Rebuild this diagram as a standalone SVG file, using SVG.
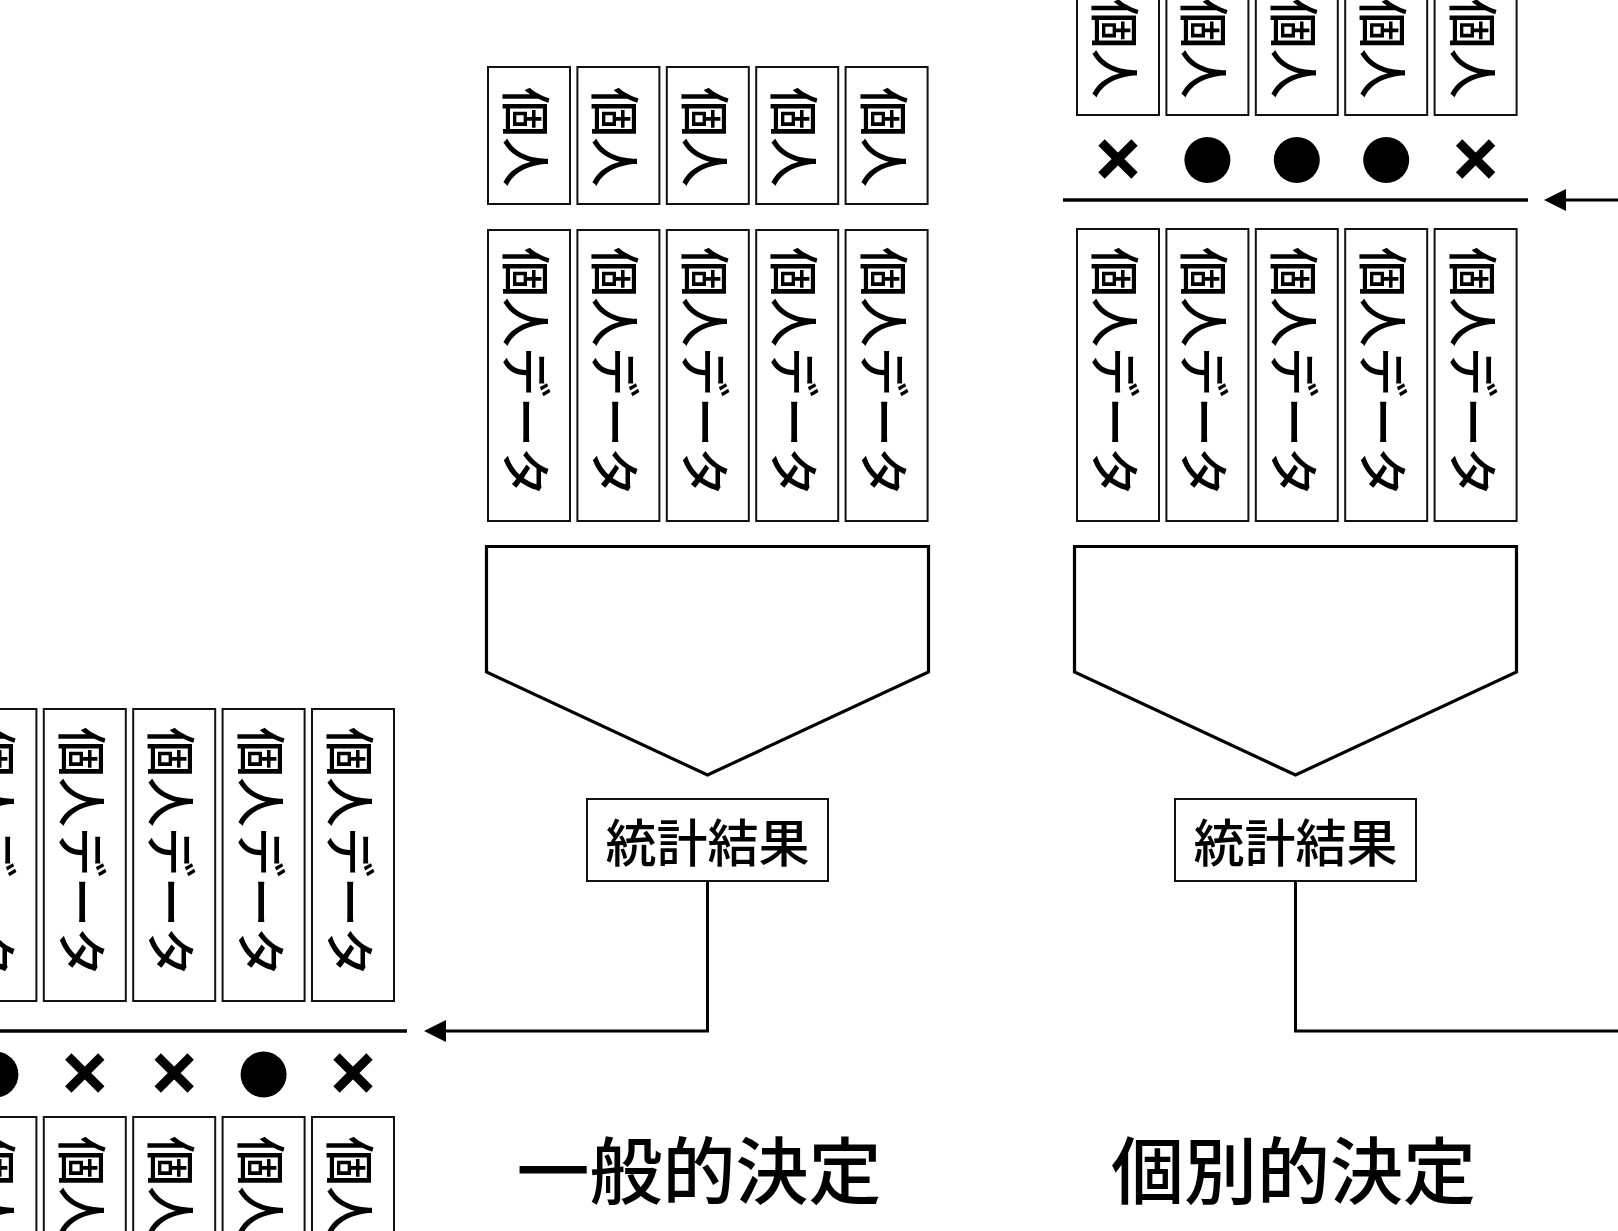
<svg xmlns="http://www.w3.org/2000/svg" width="1618" height="1231" viewBox="0 0 1618 1231">
<style>
.box{fill:#fff;stroke:#111;stroke-width:2}
.shape{fill:#fff;stroke:#000;stroke-width:3.2;stroke-linejoin:miter}
.t{font-family:"Noto Sans CJK JP","Noto Sans CJK SC",sans-serif;font-weight:500;fill:#000;text-anchor:middle;dominant-baseline:central}
.v{font-size:50px}
.s{font-size:51px}
.h{font-size:73px}
.rule{stroke:#000;stroke-width:3.5}
.conn{fill:none;stroke:#000;stroke-width:3}
.dot{fill:#000}
.x{stroke:#000;stroke-width:9;fill:none}
</style>
<defs>
<marker id="ah" markerUnits="userSpaceOnUse" markerWidth="22" markerHeight="22" refX="10" refY="11" orient="auto" viewBox="0 0 22 22"><path d="M0,0 L22,11 L0,22 Z" fill="#000"/></marker>
<path id="cross" class="x" d="M-16.5,-16.5 L16.5,16.5 M16.5,-16.5 L-16.5,16.5"/>
</defs>
<rect width="1618" height="1231" fill="#fff"/>

<!-- Middle group: 一般的決定 -->
<g id="mid-person-1"><rect class="box" x="488" y="67" width="82" height="137"/><text class="t v" transform="translate(529,137) rotate(90)">個人</text></g>
<g id="mid-person-2"><rect class="box" x="577.4" y="67" width="82" height="137"/><text class="t v" transform="translate(618.4,137) rotate(90)">個人</text></g>
<g id="mid-person-3"><rect class="box" x="666.8" y="67" width="82" height="137"/><text class="t v" transform="translate(707.8,137) rotate(90)">個人</text></g>
<g id="mid-person-4"><rect class="box" x="756.2" y="67" width="82" height="137"/><text class="t v" transform="translate(797.2,137) rotate(90)">個人</text></g>
<g id="mid-person-5"><rect class="box" x="845.6" y="67" width="82" height="137"/><text class="t v" transform="translate(886.6,137) rotate(90)">個人</text></g>

<g id="mid-data-1"><rect class="box" x="488" y="230" width="82" height="291"/><text class="t v" transform="translate(529,372) rotate(90)">個人データ</text></g>
<g id="mid-data-2"><rect class="box" x="577.4" y="230" width="82" height="291"/><text class="t v" transform="translate(618.4,372) rotate(90)">個人データ</text></g>
<g id="mid-data-3"><rect class="box" x="666.8" y="230" width="82" height="291"/><text class="t v" transform="translate(707.8,372) rotate(90)">個人データ</text></g>
<g id="mid-data-4"><rect class="box" x="756.2" y="230" width="82" height="291"/><text class="t v" transform="translate(797.2,372) rotate(90)">個人データ</text></g>
<g id="mid-data-5"><rect class="box" x="845.6" y="230" width="82" height="291"/><text class="t v" transform="translate(886.6,372) rotate(90)">個人データ</text></g>

<g id="mid-funnel"><polygon class="shape" points="486.5,546.5 928.5,546.5 928.5,672 707.5,775 486.5,672"/></g>
<g id="mid-stats"><rect class="box" x="587" y="799" width="241" height="82"/><text class="t s" x="707.5" y="840">統計結果</text></g>
<g id="mid-title"><text class="t h" x="699" y="1166">一般的決定</text></g>

<!-- Right group: 個別的決定 -->
<g id="right-person-1"><rect class="box" x="1077" y="-22" width="82" height="137"/><text class="t v" transform="translate(1118,48.5) rotate(90)">個人</text></g>
<g id="right-person-2"><rect class="box" x="1166.4" y="-22" width="82" height="137"/><text class="t v" transform="translate(1207.4,48.5) rotate(90)">個人</text></g>
<g id="right-person-3"><rect class="box" x="1255.8" y="-22" width="82" height="137"/><text class="t v" transform="translate(1296.8,48.5) rotate(90)">個人</text></g>
<g id="right-person-4"><rect class="box" x="1345.2" y="-22" width="82" height="137"/><text class="t v" transform="translate(1386.2,48.5) rotate(90)">個人</text></g>
<g id="right-person-5"><rect class="box" x="1434.6" y="-22" width="82" height="137"/><text class="t v" transform="translate(1475.6,48.5) rotate(90)">個人</text></g>

<g id="right-marks">
<use href="#cross" x="1118" y="159"/>
<circle class="dot" cx="1207.4" cy="160" r="23"/>
<circle class="dot" cx="1296.8" cy="160" r="23"/>
<circle class="dot" cx="1386.2" cy="160" r="23"/>
<use href="#cross" x="1475.6" y="159"/>
</g>
<g id="right-rule"><line class="rule" x1="1063" y1="200" x2="1528" y2="200"/></g>

<g id="right-data-1"><rect class="box" x="1077" y="229" width="82" height="292"/><text class="t v" transform="translate(1118,372) rotate(90)">個人データ</text></g>
<g id="right-data-2"><rect class="box" x="1166.4" y="229" width="82" height="292"/><text class="t v" transform="translate(1207.4,372) rotate(90)">個人データ</text></g>
<g id="right-data-3"><rect class="box" x="1255.8" y="229" width="82" height="292"/><text class="t v" transform="translate(1296.8,372) rotate(90)">個人データ</text></g>
<g id="right-data-4"><rect class="box" x="1345.2" y="229" width="82" height="292"/><text class="t v" transform="translate(1386.2,372) rotate(90)">個人データ</text></g>
<g id="right-data-5"><rect class="box" x="1434.6" y="229" width="82" height="292"/><text class="t v" transform="translate(1475.6,372) rotate(90)">個人データ</text></g>

<g id="right-funnel"><polygon class="shape" points="1074.5,546.5 1516.5,546.5 1516.5,672 1295.5,775 1074.5,672"/></g>
<g id="right-stats"><rect class="box" x="1175" y="799" width="241" height="82"/><text class="t s" x="1295.5" y="840">統計結果</text></g>
<g id="right-title"><text class="t h" x="1293.5" y="1166">個別的決定</text></g>

<!-- Left group -->
<g id="left-data-1"><rect class="box" x="-45.6" y="709" width="82" height="292"/><text class="t v" transform="translate(-4.6,852) rotate(90)">個人データ</text></g>
<g id="left-data-2"><rect class="box" x="43.8" y="709" width="82" height="292"/><text class="t v" transform="translate(84.8,852) rotate(90)">個人データ</text></g>
<g id="left-data-3"><rect class="box" x="133.2" y="709" width="82" height="292"/><text class="t v" transform="translate(174.2,852) rotate(90)">個人データ</text></g>
<g id="left-data-4"><rect class="box" x="222.6" y="709" width="82" height="292"/><text class="t v" transform="translate(263.6,852) rotate(90)">個人データ</text></g>
<g id="left-data-5"><rect class="box" x="312" y="709" width="82" height="292"/><text class="t v" transform="translate(353,852) rotate(90)">個人データ</text></g>

<g id="left-rule"><line class="rule" x1="0" y1="1031" x2="407" y2="1031"/></g>
<g id="left-marks">
<circle class="dot" cx="-4.6" cy="1074.5" r="23"/>
<use href="#cross" x="84.8" y="1073"/>
<use href="#cross" x="174.2" y="1073"/>
<circle class="dot" cx="263.6" cy="1074.5" r="23"/>
<use href="#cross" x="353" y="1073"/>
</g>

<g id="left-person-1"><rect class="box" x="-45.6" y="1117" width="82" height="137"/><text class="t v" transform="translate(-4.6,1186) rotate(90)">個人</text></g>
<g id="left-person-2"><rect class="box" x="43.8" y="1117" width="82" height="137"/><text class="t v" transform="translate(84.8,1186) rotate(90)">個人</text></g>
<g id="left-person-3"><rect class="box" x="133.2" y="1117" width="82" height="137"/><text class="t v" transform="translate(174.2,1186) rotate(90)">個人</text></g>
<g id="left-person-4"><rect class="box" x="222.6" y="1117" width="82" height="137"/><text class="t v" transform="translate(263.6,1186) rotate(90)">個人</text></g>
<g id="left-person-5"><rect class="box" x="312" y="1117" width="82" height="137"/><text class="t v" transform="translate(353,1186) rotate(90)">個人</text></g>

<!-- Connectors -->
<g id="connectors">
<path class="conn" d="M707.5,881 L707.5,1031 L436,1031" marker-end="url(#ah)"/>
<path class="conn" d="M1295.5,881 L1295.5,1031 L1620,1031"/>
<path class="conn" d="M1620,200 L1556,200" marker-end="url(#ah)"/>
</g>
</svg>
